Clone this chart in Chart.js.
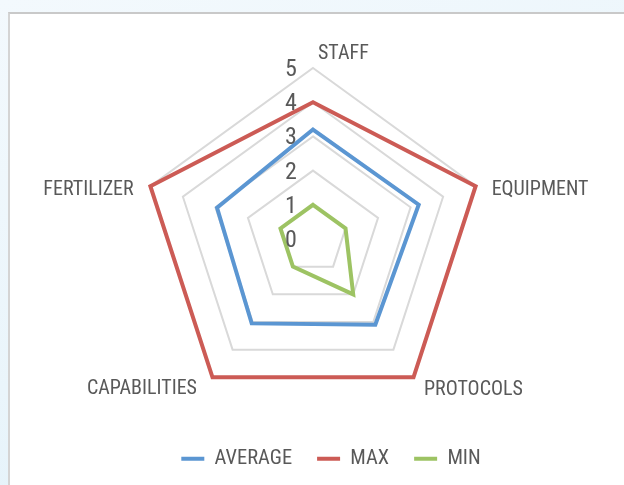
<!DOCTYPE html>
<html><head><meta charset="utf-8">
<script src="https://cdn.jsdelivr.net/npm/chart.js@4/dist/chart.umd.min.js"></script>
<style>
html,body{margin:0;padding:0;width:624px;height:485px;overflow:hidden;}
body{background:linear-gradient(160deg,#f3f9fd 0%,#eaf5fb 55%,#dff0f9 100%);position:relative;}
#card{position:absolute;left:8px;top:12px;width:640px;height:500px;background:#fff;border-top:2px solid #c9c9c9;border-left:2px solid #d4d4d4;box-sizing:border-box;}
#c{position:absolute;left:0;top:0;}
</style></head><body>
<div id="card"></div>
<canvas id="c" width="624" height="485"></canvas>
<script>
const categories = ['STAFF', 'EQUIPMENT', 'PROTOCOLS', 'CAPABILITIES', 'FERTILIZER'];
const averageValues = [3.2, 3.25, 3.1, 3.05, 2.95];
const maxValues = [4, 5, 5, 5, 5];
const minValues = [1, 1, 2, 1, 1];
const tickValues = [0, 1, 2, 3, 4, 5];
const seriesNames = ['AVERAGE', 'MAX', 'MIN'];

const FAMILY = "'Liberation Sans Narrow', 'Arial Narrow', 'Roboto Condensed', 'Liberation Sans', sans-serif";
const TEXT = '#595959';

const excelLabels = {
  id: 'excelLabels',
  afterLayout(chart) {
    chart.legend.left += 18;
    chart.legend.right += 18;
  },
  afterDatasetsDraw(chart) {
    const s = chart.scales.r, ctx = chart.ctx;
    ctx.save();
    ctx.fillStyle = TEXT;
    ctx.textBaseline = 'middle';
    ctx.textAlign = 'center';
    ctx.font = '24px ' + FAMILY;
    tickValues.forEach(v => {
      const d = s.getDistanceFromCenterForValue(v);
      ctx.fillText(String(v), s.xCenter - 22, s.yCenter - d + 2);
    });
    ctx.font = '20px ' + FAMILY;
    const place = [
      {align: 'left', dx: 5, dy: -14},
      {align: 'left', dx: 16, dy: 4},
      {align: 'left', dx: 10.5, dy: 13},
      {align: 'right', dx: -15.5, dy: 12},
      {align: 'right', dx: -16.7, dy: 4}
    ];
    categories.forEach((name, i) => {
      const p = s.getPointPosition(i, s.drawingArea);
      ctx.textAlign = place[i].align;
      ctx.fillText(name, p.x + place[i].dx, p.y + place[i].dy);
    });
    ctx.restore();
  }
};

const colors = ['#5b96d2', '#cc5b55', '#9dc363'];
const seriesData = [averageValues, maxValues, minValues];

new Chart(document.getElementById('c'), {
  type: 'radar',
  data: {
    labels: categories,
    datasets: seriesNames.map((n, i) => ({
      label: n,
      data: seriesData[i],
      borderColor: colors[i],
      backgroundColor: colors[i],
      borderWidth: 4,
      borderCapStyle: 'round',
      fill: false,
      pointRadius: 0,
      pointHitRadius: 0,
      tension: 0
    }))
  },
  options: {
    responsive: false,
    animation: false,
    layout: {padding: {top: 68, left: 12, right: 10, bottom: 6}},
    scales: {
      r: {
        min: 0, max: 5,
        ticks: {display: false, stepSize: 1},
        grid: {color: '#d9d9d9', lineWidth: 2},
        angleLines: {display: false},
        pointLabels: {display: false}
      }
    },
    plugins: {
      legend: {
        position: 'bottom',
        labels: {
          usePointStyle: true, pointStyle: 'line', pointStyleWidth: 23,
          padding: 25, color: TEXT, font: {family: FAMILY, size: 20.5}
        },
        title: {display: true, text: '', font: {size: 13, lineHeight: 1}}
      },
      tooltip: {enabled: false}
    }
  },
  plugins: [excelLabels]
});
</script>
</body></html>
